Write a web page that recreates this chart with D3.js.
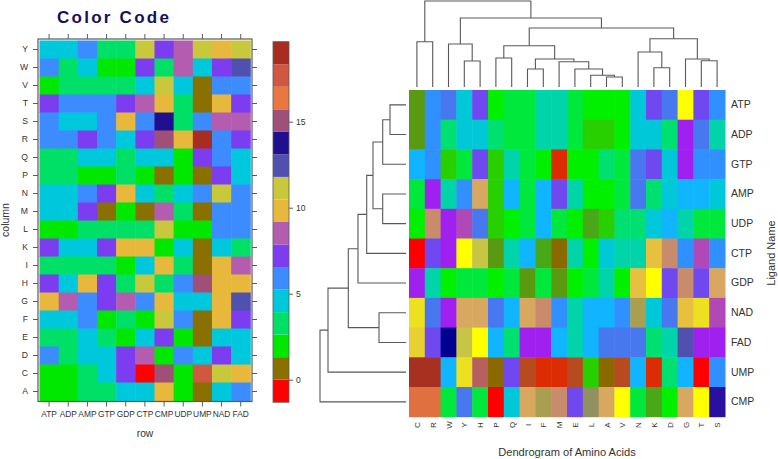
<!DOCTYPE html>
<html><head><meta charset="utf-8">
<script src="https://cdnjs.cloudflare.com/ajax/libs/d3/7.8.5/d3.min.js"></script>
<style>
html,body{margin:0;padding:0;background:#fff}
svg{display:block}
text{font-family:"Liberation Sans",Arial,sans-serif}
</style></head><body>
<svg id="c" width="778" height="459"></svg>
<script>
// ---- data ----
const ligandsLeft = ["ATP","ADP","AMP","GTP","GDP","CTP","CMP","UDP","UMP","NAD","FAD"];
const residuesLeft = ["Y","W","V","T","S","R","Q","P","N","M","L","K","I","H","G","F","E","D","C","A"];
const levelColors = ["#ff0000","#8a7000","#00e800","#00e066","#00c8dc","#3c8cff","#7c3cf0","#b45cb0","#e8b83c","#c8c83c","#5050b0","#201090","#a05078","#e87840","#d05840","#a82c20"];
const levelBreaks = [-1.31,0,1.31,2.62,3.93,5.24,6.55,7.86,9.17,10.48,11.79,13.1,14.41,15.72,17.03,18.34,19.65];
const colorbarTicks = [0,5,10,15];
const leftLevels = [
 [4,4,5,3,3,9,6,7,9,8,9],
 [5,3,4,2,2,6,3,7,4,6,10],
 [2,3,3,3,3,4,9,4,1,5,5],
 [6,5,5,5,6,7,8,3,1,8,6],
 [5,4,4,5,8,5,11,3,5,7,7],
 [5,5,6,5,4,6,12,8,15,5,6],
 [3,3,4,4,3,4,4,2,6,5,4],
 [3,3,2,2,3,2,1,2,1,6,4],
 [4,4,5,6,8,4,3,4,5,9,5],
 [4,4,6,1,2,1,7,3,1,5,5],
 [2,2,3,3,3,3,9,2,2,5,5],
 [6,4,4,6,8,8,2,4,1,4,3],
 [3,3,3,3,2,4,8,3,1,8,7],
 [6,4,8,6,3,9,3,5,12,8,8],
 [8,7,5,6,7,5,8,4,4,8,10],
 [4,4,5,2,3,2,9,5,1,8,6],
 [3,3,4,3,2,4,6,2,1,4,4],
 [5,3,4,4,6,7,2,5,4,6,4],
 [2,2,3,4,6,0,12,2,14,9,8],
 [2,2,3,3,4,4,8,2,1,4,5]
];
const residuesRight = ["C","R","W","Y","H","P","Q","I","F","M","E","L","A","V","N","K","D","G","T","S"];
const ligandsRight = ["ATP","ADP","GTP","AMP","UDP","CTP","GDP","NAD","FAD","UMP","CMP"];
const shadeColors = ["#ff0000","#dc2c04","#b84a20","#a83020","#8a6a00","#5a9a10","#48a818","#28d000","#00f000","#00e83c","#00e070","#00d4a8","#00c8d8","#10b4ff","#3090ff","#4878f0","#7048f0","#a020f0","#b048b8","#b86060","#c88c6c","#d8a860","#e8c040","#ece020","#ffff00","#a8a050","#5050b0","#000090","#e07040","#2a10a0","#c8c444","#909060","#e8d030"];
const rightShades = [
 [5,14,15,12,16,8,9,9,11,11,9,8,8,8,12,16,15,24,16,14],
 [5,14,10,12,12,10,9,9,11,11,9,7,7,8,12,12,10,17,15,11],
 [13,14,7,9,16,7,11,9,8,1,8,8,10,9,15,16,12,17,14,14],
 [9,17,11,14,21,7,13,9,13,16,11,8,8,9,15,10,12,13,13,12],
 [8,20,17,18,15,7,8,9,13,9,8,6,7,10,10,12,13,11,9,9],
 [0,16,17,24,30,5,11,13,6,4,11,8,12,11,11,22,20,14,18,14],
 [17,11,8,9,9,8,9,5,9,5,8,9,11,8,22,24,16,20,16,21],
 [23,15,17,21,21,15,13,21,20,14,11,13,13,14,25,12,15,22,23,18],
 [32,16,27,30,24,13,10,17,17,13,11,13,15,15,15,10,11,26,17,17],
 [3,3,13,23,19,4,16,2,1,1,2,7,4,2,13,1,10,13,0,14],
 [28,28,9,15,9,0,12,21,25,20,16,31,21,24,9,6,8,21,24,29]
];
// dendrograms as nested [left, right, height]; a string child names a leaf
const topDendroSpec = [
  ["C","R",45.3],
  [
    ["W",["Y","H",26],43],
    [
      [
        ["P","Q",29],
        [
          ["I","F",18],
          ["M",["E",["L",["A","V",10],11.7],18],25.3],
          28],
        41.3],
      [
        ["N",["K","D",19.3],35],
        ["G",["T","S",26.3],28],
        48.3],
      59],
    69],
  86];
const leftDendroSpec = [
  [
    [
      [
        [
          [
            [["ATP","ADP",16],"GTP",23.3],
            ["AMP","UDP",23.3],
            33],
          "CTP",39.3],
        "GDP",48],
      ["NAD","FAD",27],
      57.7],
    "UMP",78],
  "CMP",86];

// ---- drawing ----
const svg = d3.select("#c");
const axisColor = "#5a5a5a", textColor = "#333";

function styleAxis(g){
  g.select(".domain").remove();
  g.selectAll("line").attr("stroke",axisColor).attr("stroke-width",1);
  g.selectAll("text").attr("fill",textColor);
}

// Left level plot
const lx = d3.scaleBand().domain(ligandsLeft).range([39.5,250.3]);
const ly = d3.scaleBand().domain(residuesLeft).range([40.5,400.5]);
svg.append("g").selectAll("g").data(leftLevels).join("g").each(function(row,i){
  d3.select(this).selectAll("rect").data(row).join("rect")
    .attr("x",(d,j)=>lx(ligandsLeft[j])).attr("y",ly(residuesLeft[i]))
    .attr("width",lx.bandwidth()+0.5).attr("height",ly.bandwidth()+0.5)
    .attr("fill",d=>levelColors[d]);
});
svg.append("rect").attr("x",38).attr("y",39).attr("width",214).attr("height",362.5)
  .attr("fill","none").attr("stroke",axisColor).attr("stroke-width",1.2);
svg.append("g").attr("transform","translate(0,401.5)")
  .call(d3.axisBottom(lx).tickSize(5).tickPadding(5)).call(styleAxis)
  .selectAll("text").attr("font-size",8.4);
svg.append("g").attr("transform","translate(0,39)")
  .call(d3.axisTop(lx).tickSize(5).tickFormat("")).call(styleAxis);
svg.append("g").attr("transform","translate(38,0)")
  .call(d3.axisLeft(ly).tickSize(5).tickPadding(5)).call(styleAxis)
  .selectAll("text").attr("font-size",8.6);
svg.append("g").attr("transform","translate(252,0)")
  .call(d3.axisRight(ly).tickSize(5).tickFormat("")).call(styleAxis);
svg.append("text").attr("x",145).attr("y",436.5).attr("text-anchor","middle")
  .attr("font-size",10.3).attr("fill",textColor).text("row");
svg.append("text").attr("transform","translate(9,220) rotate(-90)").attr("text-anchor","middle")
  .attr("font-size",10.5).attr("fill",textColor).text("column");
svg.append("text").attr("x",57).attr("y",23).attr("font-size",17).attr("font-weight","bold")
  .attr("letter-spacing",2.25).attr("fill","#14105e").text("Color Code");

// Colour bar
const cb = d3.scaleLinear().domain([0,15]).range([379.7,121.7]);
svg.append("g").selectAll("rect").data(levelColors).join("rect")
  .attr("x",273).attr("width",16)
  .attr("y",(d,i)=>cb(levelBreaks[i+1])).attr("height",(d,i)=>cb(levelBreaks[i])-cb(levelBreaks[i+1]))
  .attr("fill",d=>d);
svg.append("rect").attr("x",273).attr("y",cb(levelBreaks[16])).attr("width",16)
  .attr("height",cb(levelBreaks[0])-cb(levelBreaks[16])).attr("fill","none").attr("stroke",axisColor).attr("stroke-width",0.8);
svg.append("g").attr("transform","translate(289,0)")
  .call(d3.axisRight(cb).tickValues(colorbarTicks).tickSize(4).tickPadding(3)).call(styleAxis)
  .selectAll("text").attr("font-size",8.6);

// Right heat map
const rx = d3.scaleBand().domain(residuesRight).range([409,725]);
const ry = d3.scaleBand().domain(ligandsRight).range([90,416.7]);
svg.append("g").selectAll("g").data(rightShades).join("g").each(function(row,i){
  d3.select(this).selectAll("rect").data(row).join("rect")
    .attr("x",(d,j)=>rx(residuesRight[j])).attr("y",ry(ligandsRight[i]))
    .attr("width",rx.bandwidth()+0.5).attr("height",ry.bandwidth()+0.5)
    .attr("fill",d=>shadeColors[d]);
});
const rightLabels = svg.append("g").attr("transform","translate(725,0)")
  .call(d3.axisRight(ry).tickSize(0).tickPadding(6)).call(styleAxis);
rightLabels.selectAll("text").attr("font-size",10.5);
const bottomLabels = svg.append("g").attr("transform","translate(0,417)")
  .call(d3.axisBottom(rx).tickSize(0).tickPadding(0)).call(styleAxis);
bottomLabels.selectAll("text").attr("font-size",8)
  .attr("transform","translate(3,8) rotate(-90)").attr("text-anchor","middle").attr("dy",0).attr("y",0);
svg.append("text").attr("x",567).attr("y",455.5).attr("text-anchor","middle")
  .attr("font-size",11.1).attr("fill",textColor).text("Dendrogram of Amino Acids");
svg.append("text").attr("transform","translate(775,253) rotate(-90)").attr("text-anchor","middle")
  .attr("font-size",11).attr("fill",textColor).text("Ligand Name");

// Dendrograms
const hTop = d3.scaleLinear().domain([0,86]).range([87,1]);
const hLeft = d3.scaleLinear().domain([0,86]).range([406,320]);
function dendroPaths(spec,pos,h,horizontal){
  const segs=[];
  function walk(n){
    if(typeof n==="string") return {c:pos(n),v:0};
    const a=walk(n[0]), b=walk(n[1]);
    const ha=h(a.v), hb=h(b.v), hn=h(n[2]);
    segs.push(horizontal
      ? `M${ha},${a.c}H${hn}V${b.c}H${hb}`
      : `M${a.c},${ha}V${hn}H${b.c}V${hb}`);
    return {c:(a.c+b.c)/2,v:n[2]};
  }
  walk(spec);
  return segs;
}
const dendroG = svg.append("g").attr("fill","none").attr("stroke","#585858").attr("stroke-width",1.1);
dendroG.selectAll("path.t").data(dendroPaths(topDendroSpec,n=>rx(n)+rx.bandwidth()/2,hTop,false))
  .join("path").attr("class","t").attr("d",d=>d);
dendroG.selectAll("path.l").data(dendroPaths(leftDendroSpec,n=>ry(n)+ry.bandwidth()/2,hLeft,true))
  .join("path").attr("class","l").attr("d",d=>d);
</script>
</body></html>
